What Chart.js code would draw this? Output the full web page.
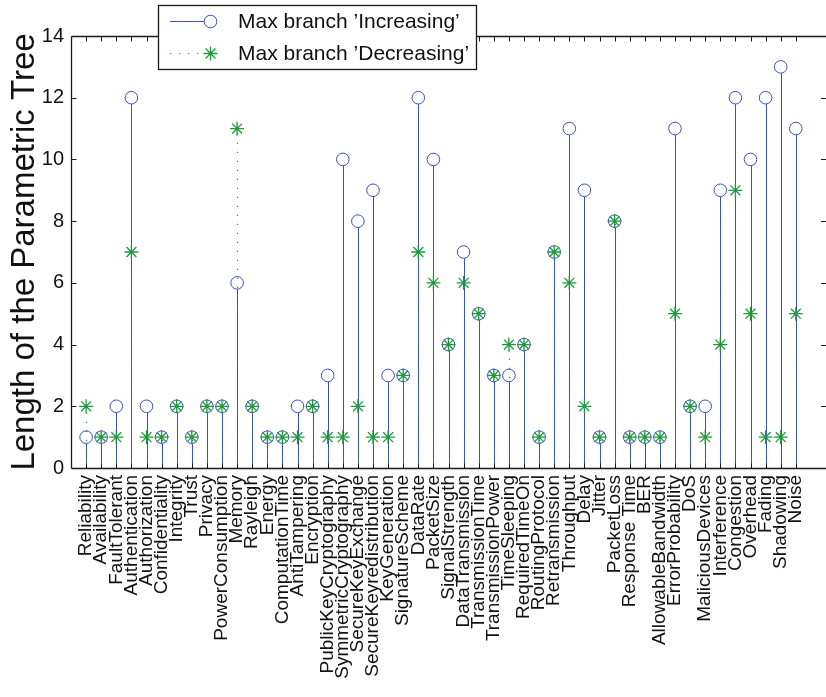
<!DOCTYPE html>
<html>
<head>
<meta charset="utf-8">
<script src="https://cdn.jsdelivr.net/npm/chart.js@4"></script>
<style>
html,body{margin:0;padding:0;background:#fff;}
canvas{display:block;}
</style>
</head>
<body>
<canvas id="c" width="826" height="697"></canvas>
<script>
const categories = ["Reliability","Availability","FaultTolerant","Authentication","Authorization","Confidentiality","Integrity","Trust","Privacy","PowerConsumption","Memory","Rayleigh","Energy","ComputationTime","AntiTampering","Encryption","PublicKeyCryptography","SymmetricCryptography","SecureKeyExchange","SecureKeyredistribution","KeyGeneration","SignatureScheme","DataRate","PacketSize","SignalStrength","DataTransmission","TransmissionTime","TransmissionPower","TimeSleeping","RequiredTimeOn","RoutingProtocol","Retransmission","Throughput","Delay","Jitter","PacketLoss","Response Time","BER","AllowableBandwidth","ErrorProbability","DoS","MaliciousDevices","Interference","Congestion","Overhead","Fading","Shadowing","Noise"];
const increasing = [1,1,2,12,2,1,2,1,2,2,6,2,1,1,2,2,3,10,8,9,3,3,12,10,4,7,5,3,3,4,1,7,11,9,1,8,1,1,1,11,2,2,9,12,10,12,13,11];
const decreasing = [2,1,1,7,1,1,2,1,2,2,11,2,1,1,1,2,1,1,2,1,1,3,7,6,4,6,5,3,4,4,1,7,6,2,1,8,1,1,1,5,2,1,4,9,5,1,1,5];
const yTicks = [0,2,4,6,8,10,12,14];
const seriesNames = ["Max branch \u2019Increasing\u2019", "Max branch \u2019Decreasing\u2019"];

const BLUE = '#3d4ec2';
const GREEN = '#1e9a3c';
const FONT = "'Liberation Sans', Arial, Helvetica, sans-serif";

const stemPlugin = {
  id: 'stems',
  beforeDatasetsDraw(chart) {
    const ctx = chart.ctx;
    const y0 = chart.scales.y.getPixelForValue(0);
    ctx.save();
    const m0 = chart.getDatasetMeta(0);
    ctx.strokeStyle = BLUE; ctx.lineWidth = 1; ctx.setLineDash([]);
    m0.data.forEach(p => {
      ctx.beginPath(); ctx.moveTo(Math.round(p.x)+0.5, y0); ctx.lineTo(Math.round(p.x)+0.5, p.y + 6.5); ctx.stroke();
    });
    const m1 = chart.getDatasetMeta(1);
    ctx.strokeStyle = GREEN; ctx.lineWidth = 1.2; ctx.setLineDash([1.2, 7.8]);
    m1.data.forEach(p => {
      ctx.beginPath(); ctx.moveTo(Math.round(p.x)+0.5, y0); ctx.lineTo(Math.round(p.x)+0.5, p.y); ctx.stroke();
    });
    ctx.restore();
  },
  afterDraw(chart) {
    const ctx = chart.ctx;
    const ca = chart.chartArea;
    const xs = chart.scales.x, ys = chart.scales.y;
    ctx.save();
    ctx.strokeStyle = '#1a1a1a'; ctx.lineWidth = 1.3; ctx.setLineDash([]);
    const L = Math.round(ca.left)+0.5, T = Math.round(ca.top)+0.5, B = Math.round(ca.bottom)+0.5, R = ca.right;
    ctx.beginPath();
    ctx.moveTo(L, T); ctx.lineTo(R + 2, T);
    ctx.moveTo(L, T); ctx.lineTo(L, B);
    ctx.moveTo(L, B); ctx.lineTo(R + 2, B);
    ctx.stroke();
    ctx.lineWidth = 1;
    ctx.beginPath();
    ys.ticks.forEach(t => {
      const y = Math.round(ys.getPixelForValue(t.value)) + 0.5;
      if (t.value === 0 || t.value === 14) return;
      ctx.moveTo(L, y); ctx.lineTo(L + 5, y);
      ctx.moveTo(R, y); ctx.lineTo(R - 5, y);
    });
    xs.ticks.forEach(t => {
      const x = Math.round(xs.getPixelForValue(t.value)) + 0.5;
      ctx.moveTo(x, T); ctx.lineTo(x, T + 5);
      ctx.moveTo(x, B); ctx.lineTo(x, B - 5);
    });
    ctx.stroke();

    // legend
    const bx = 158.5, by = 5.5, bw = 318, bh = 64;
    ctx.fillStyle = '#fff';
    ctx.fillRect(bx, by, bw, bh);
    ctx.strokeStyle = '#1a1a1a'; ctx.lineWidth = 1.3;
    ctx.strokeRect(bx, by, bw, bh);
    const r1 = 21.5, r2 = 53.5;
    ctx.strokeStyle = BLUE; ctx.lineWidth = 1;
    ctx.beginPath(); ctx.moveTo(170, r1); ctx.lineTo(204, r1); ctx.stroke();
    ctx.beginPath(); ctx.arc(210.5, r1, 6.3, 0, Math.PI*2); ctx.stroke();
    ctx.strokeStyle = GREEN; ctx.lineWidth = 1.2; ctx.setLineDash([1.2, 7.8]);
    ctx.beginPath(); ctx.moveTo(170, r2); ctx.lineTo(204, r2); ctx.stroke();
    ctx.setLineDash([]);
    const sx = 210.5, sr = 7;
    ctx.lineWidth = 1.3;
    ctx.beginPath();
    ctx.moveTo(sx - sr, r2); ctx.lineTo(sx + sr, r2);
    ctx.moveTo(sx, r2 - sr); ctx.lineTo(sx, r2 + sr);
    const d = sr * Math.SQRT1_2;
    ctx.moveTo(sx - d, r2 - d); ctx.lineTo(sx + d, r2 + d);
    ctx.moveTo(sx - d, r2 + d); ctx.lineTo(sx + d, r2 - d);
    ctx.stroke();
    ctx.fillStyle = '#111';
    ctx.font = "21px " + FONT;
    ctx.textBaseline = 'middle'; ctx.textAlign = 'left';
    ctx.fillText(seriesNames[0], 238, r1 + 1);
    ctx.fillText(seriesNames[1], 238, r2 + 1);
    ctx.restore();
  }
};

const incData = increasing.map((v, i) => ({x: i + 1, y: v}));
const decData = decreasing.map((v, i) => ({x: i + 1, y: v}));

new Chart(document.getElementById('c'), {
  type: 'line',
  data: {
    datasets: [
      {label: seriesNames[0], data: incData, showLine: false, order: 1,
       pointStyle: 'circle', pointRadius: 6.3, pointBorderWidth: 1,
       pointBorderColor: BLUE, pointBackgroundColor: 'rgba(0,0,0,0)', borderColor: BLUE},
      {label: seriesNames[1], data: decData, showLine: false, order: 0,
       pointStyle: 'star', pointRadius: 7, pointBorderWidth: 1.3,
       pointBorderColor: GREEN, pointBackgroundColor: GREEN, borderColor: GREEN}
    ]
  },
  options: {
    responsive: false,
    animation: false,
    devicePixelRatio: 1,
    events: [],
    layout: {autoPadding: false, padding: {top: 36, right: -1.5, left: 0, bottom: 0}},
    plugins: {legend: {display: false}, tooltip: {enabled: false}},
    scales: {
      x: {
        type: 'linear', min: 0, max: 50,
        grid: {display: false, drawTicks: false},
        border: {display: false},
        afterBuildTicks(scale) { scale.ticks = categories.map((c, i) => ({value: i + 1})); },
        afterFit(scale) { scale.height = 229; scale.paddingLeft = 0; scale.paddingRight = 0; },
        ticks: {
          autoSkip: false, minRotation: 90, maxRotation: 90, padding: 7,
          color: '#111', font: {family: FONT, size: 19},
          callback: (v) => categories[Math.round(v) - 1] || ''
        }
      },
      y: {
        type: 'linear', min: 0, max: 14,
        grid: {display: false, drawTicks: false},
        border: {display: false},
        afterBuildTicks(scale) { scale.ticks = yTicks.map(v => ({value: v})); },
        afterFit(scale) { scale.width = 71; scale.paddingTop = 0; scale.paddingBottom = 0; },
        ticks: {padding: 7, color: '#111', font: {family: FONT, size: 20}},
        title: {display: true, text: 'Length of the Parametric Tree', color: '#111',
                font: {family: FONT, size: 33}, padding: {top: 5, bottom: 0}}
      }
    }
  },
  plugins: [stemPlugin]
});
</script>
</body>
</html>
